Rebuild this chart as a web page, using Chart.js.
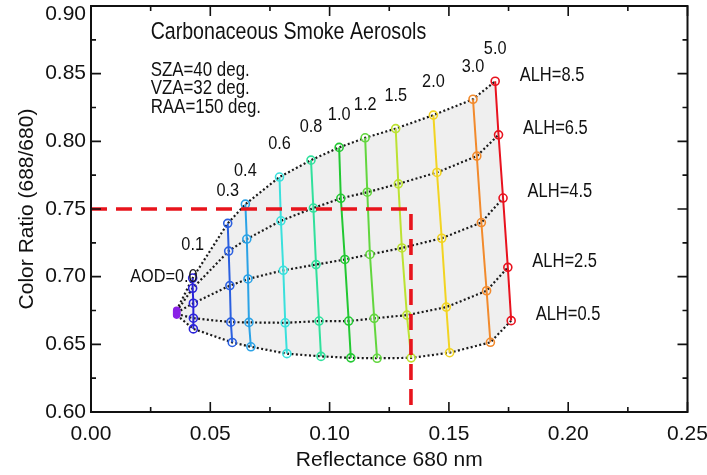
<!DOCTYPE html>
<html>
<head>
<meta charset="utf-8">
<script src="https://cdn.jsdelivr.net/npm/chart.js@4.4.1/dist/chart.umd.min.js"></script>
<style>
html,body{margin:0;padding:0;background:#fff;overflow:hidden}
canvas{display:block}
</style>
</head>
<body>
<canvas id="c" width="707" height="475"></canvas>
<script>
// ---------- DATA ----------
const aodLabels = ['0.0','0.1','0.3','0.4','0.6','0.8','1.0','1.2','1.5','2.0','3.0','5.0'];
const alhLabels = ['ALH=8.5','ALH=6.5','ALH=4.5','ALH=2.5','ALH=0.5'];
// Reflectance 680 nm per AOD column, ordered ALH 8.5 -> 0.5
const reflectance = [
  [0.0359,0.0359,0.0359,0.0359,0.0359],
  [0.0426,0.0426,0.0429,0.0429,0.0429],
  [0.0573,0.0577,0.0582,0.0586,0.0592],
  [0.0647,0.0653,0.0658,0.0662,0.0670],
  [0.0790,0.0796,0.0806,0.0814,0.0821],
  [0.0922,0.0932,0.0943,0.0956,0.0964],
  [0.1040,0.1047,0.1064,0.1080,0.1089],
  [0.1149,0.1158,0.1169,0.1187,0.1199],
  [0.1277,0.1288,0.1303,0.1324,0.1342],
  [0.1435,0.1450,0.1470,0.1489,0.1503],
  [0.1601,0.1617,0.1636,0.1658,0.1674],
  [0.1694,0.1708,0.1727,0.1747,0.1761]
];
// Color ratio (688/680) per AOD column, ordered ALH 8.5 -> 0.5
const colorRatio = [
  [0.6752,0.6743,0.6734,0.6725,0.6716],
  [0.6990,0.6914,0.6804,0.6693,0.6614],
  [0.7394,0.7189,0.6934,0.6664,0.6514],
  [0.7536,0.7278,0.6983,0.6662,0.6482],
  [0.7736,0.7413,0.7047,0.6659,0.6431],
  [0.7861,0.7507,0.7089,0.6672,0.6411],
  [0.7955,0.7579,0.7127,0.6672,0.6400],
  [0.8026,0.7624,0.7164,0.6692,0.6397],
  [0.8094,0.7686,0.7212,0.6716,0.6400],
  [0.8194,0.7770,0.7284,0.6775,0.6438],
  [0.8311,0.7891,0.7400,0.6896,0.6515],
  [0.8444,0.8048,0.7581,0.7069,0.6675]
];
const refLineX = 0.1341;
const refLineY = 0.75;
const xTickValues = [0.00,0.05,0.10,0.15,0.20,0.25];
const xTickLabels = ['0.00','0.05','0.10','0.15','0.20','0.25'];
const yTickValues = [0.60,0.65,0.70,0.75,0.80,0.85,0.90];
const yTickLabels = ['0.60','0.65','0.70','0.75','0.80','0.85','0.90'];
const titleText = 'Carbonaceous Smoke Aerosols';
const geometryText = ['SZA=40 deg.','VZA=32 deg.','RAA=150 deg.'];
const xTitle = 'Reflectance 680 nm';
const yTitle = 'Color Ratio (688/680)';

// ---------- STYLE ----------
const FONT = '"Liberation Sans", Arial, Helvetica, sans-serif';
const columnColors = ['#8a22e6','#2a22d8','#2a5fe0','#2aa2e6','#3ae0dc','#30e09c','#22c832','#62d63e','#bce232','#f2d422','#f28a2c','#e8121e'];

const datasets = [];
// dotted ALH lines
for (let j = 0; j < alhLabels.length; j++) {
  datasets.push({
    label: alhLabels[j],
    data: reflectance.map((col, i) => ({x: col[j], y: colorRatio[i][j]})),
    showLine: true, borderColor: '#1a1a1a', borderWidth: 2.2, borderDash: [2, 2.4],
    pointRadius: 0, order: 5
  });
}
// AOD columns
for (let i = 0; i < aodLabels.length; i++) {
  const first = i === 0;
  datasets.push({
    label: 'AOD=' + aodLabels[i],
    data: reflectance[i].map((x, j) => ({x: x, y: colorRatio[i][j]})),
    showLine: true, borderColor: columnColors[i], borderWidth: 2,
    pointRadius: first ? 3 : 4, pointBorderWidth: 1.6,
    pointBorderColor: columnColors[i],
    pointBackgroundColor: first ? columnColors[i] : 'rgba(255,255,255,0)',
    order: 2
  });
}
// red reference dashed line
datasets.push({
  label: 'ref',
  data: [{x: 0, y: refLineY}, {x: refLineX, y: refLineY}, {x: refLineX, y: 0.60}],
  showLine: true, borderColor: '#e8141c', borderWidth: 3.6, borderDash: [16, 9],
  pointRadius: 0, order: 0
});

function txt(ctx, text, x, y, size, align, sy) {
  ctx.save();
  ctx.font = size + 'px ' + FONT;
  ctx.fillStyle = '#111';
  ctx.textAlign = align;
  ctx.textBaseline = 'middle';
  ctx.translate(x, y);
  ctx.scale(1, sy);
  ctx.fillText(text, 0, 0);
  ctx.restore();
}

const shadePlugin = {
  id: 'shade',
  beforeDatasetsDraw(chart) {
    const {ctx} = chart; const xs = chart.scales.x, ys = chart.scales.y;
    const n = reflectance.length, m = alhLabels.length, last = n - 1;
    const poly = [];
    for (let i = 0; i < n; i++) poly.push([reflectance[i][0], colorRatio[i][0]]);
    for (let j = 1; j < m; j++) poly.push([reflectance[last][j], colorRatio[last][j]]);
    for (let i = last - 1; i >= 0; i--) poly.push([reflectance[i][m-1], colorRatio[i][m-1]]);
    ctx.save();
    ctx.beginPath();
    poly.forEach((p, k) => {
      const px = xs.getPixelForValue(p[0]), py = ys.getPixelForValue(p[1]);
      if (k === 0) ctx.moveTo(px, py); else ctx.lineTo(px, py);
    });
    ctx.closePath();
    ctx.fillStyle = '#efefef';
    ctx.fill();
    ctx.restore();
  }
};

const annotPlugin = {
  id: 'annot',
  afterDraw(chart) {
    const {ctx, chartArea: a} = chart; const xs = chart.scales.x, ys = chart.scales.y;
    // frame and inward ticks
    ctx.save();
    ctx.strokeStyle = '#111'; ctx.lineWidth = 2;
    ctx.strokeRect(a.left, a.top, a.right - a.left, a.bottom - a.top);
    ctx.lineWidth = 1.6;
    ctx.beginPath();
    for (let k = 0; k < xTickValues.length; k++) {
      const v = xTickValues[k];
      const px = xs.getPixelForValue(v);
      ctx.moveTo(px, a.bottom); ctx.lineTo(px, a.bottom - 10);
      ctx.moveTo(px, a.top); ctx.lineTo(px, a.top + 10);
      if (k < xTickValues.length - 1) {
        const pm = xs.getPixelForValue((v + xTickValues[k+1]) / 2);
        ctx.moveTo(pm, a.bottom); ctx.lineTo(pm, a.bottom - 5);
        ctx.moveTo(pm, a.top); ctx.lineTo(pm, a.top + 5);
      }
    }
    for (let k = 0; k < yTickValues.length; k++) {
      const v = yTickValues[k];
      const py = ys.getPixelForValue(v);
      ctx.moveTo(a.left, py); ctx.lineTo(a.left + 10, py);
      ctx.moveTo(a.right, py); ctx.lineTo(a.right - 10, py);
      if (k < yTickValues.length - 1) {
        const pm = ys.getPixelForValue((v + yTickValues[k+1]) / 2);
        ctx.moveTo(a.left, pm); ctx.lineTo(a.left + 5, pm);
        ctx.moveTo(a.right, pm); ctx.lineTo(a.right - 5, pm);
      }
    }
    ctx.stroke();
    ctx.restore();

    // top y tick label sits just below the frame corner (as in the original)
    const topIdx = yTickValues.length - 1;
    ctx.save();
    ctx.font = '21px ' + FONT; ctx.fillStyle = '#111';
    ctx.textAlign = 'right'; ctx.textBaseline = 'middle';
    ctx.fillText(yTickLabels[topIdx], a.left - 5, ys.getPixelForValue(yTickValues[topIdx]) + 8);
    ctx.restore();

    // title & viewing geometry
    const ax = xs.getPixelForValue(0.025);
    txt(ctx, titleText, ax, ys.getPixelForValue(0.8805), 19.6, 'left', 1.18);
    const y0 = ys.getPixelForValue(0.8525);
    geometryText.forEach((t, k) => txt(ctx, t, ax, y0 + k * 18.5, 16.9, 'left', 1.2));
    // AOD labels
    for (let i = 0; i < aodLabels.length; i++) {
      const px = xs.getPixelForValue(reflectance[i][0]);
      const py = ys.getPixelForValue(colorRatio[i][0]);
      if (i === 0) txt(ctx, 'AOD=' + aodLabels[i], px + 21, py - 34, 16.3, 'right', 1.18);
      else txt(ctx, aodLabels[i], px, py - 33, 16.3, 'center', 1.18);
    }
    // ALH labels
    const last = reflectance.length - 1;
    for (let j = 0; j < alhLabels.length; j++) {
      const px = xs.getPixelForValue(reflectance[last][j]);
      const py = ys.getPixelForValue(colorRatio[last][j]);
      txt(ctx, alhLabels[j], px + 24.5, py - 6, 16.5, 'left', 1.18);
    }
  }
};

new Chart(document.getElementById('c'), {
  type: 'scatter',
  data: {datasets},
  options: {
    responsive: false, animation: false, devicePixelRatio: 1,
    layout: {padding: {left: 0, right: 19.5, top: 6, bottom: 0}},
    plugins: {legend: {display: false}, tooltip: {enabled: false}},
    elements: {line: {tension: 0}},
    scales: {
      x: {
        type: 'linear', min: 0, max: 0.25,
        afterFit(s) { s.height = 63; s.paddingLeft = 0; s.paddingRight = 0; },
        afterBuildTicks(s) { s.ticks = xTickValues.map(v => ({value: v})); },
        ticks: {
          callback: (v) => { const k = xTickValues.findIndex(t => Math.abs(t - v) < 1e-9); return k >= 0 ? xTickLabels[k] : ''; },
          font: {size: 21, family: FONT}, color: '#111', padding: 10, maxRotation: 0, autoSkip: false
        },
        grid: {display: false, drawTicks: false}, border: {display: false},
        title: {display: true, text: xTitle, font: {size: 21, family: FONT}, color: '#111', padding: {top: 0, bottom: 2}}
      },
      y: {
        type: 'linear', min: 0.60, max: 0.90,
        afterFit(s) { s.width = 91; s.paddingTop = 0; s.paddingBottom = 0; },
        afterBuildTicks(s) { s.ticks = yTickValues.slice(0, -1).map(v => ({value: v})); },
        ticks: {
          callback: (v) => { const k = yTickValues.findIndex(t => Math.abs(t - v) < 1e-9); return k >= 0 ? yTickLabels[k] : ''; },
          font: {size: 21, family: FONT}, color: '#111', padding: 5, autoSkip: false
        },
        grid: {display: false, drawTicks: false}, border: {display: false},
        title: {display: true, text: yTitle, font: {size: 21, family: FONT}, color: '#111', padding: {top: 15, bottom: 0}}
      }
    }
  },
  plugins: [shadePlugin, annotPlugin]
});
</script>
</body>
</html>
